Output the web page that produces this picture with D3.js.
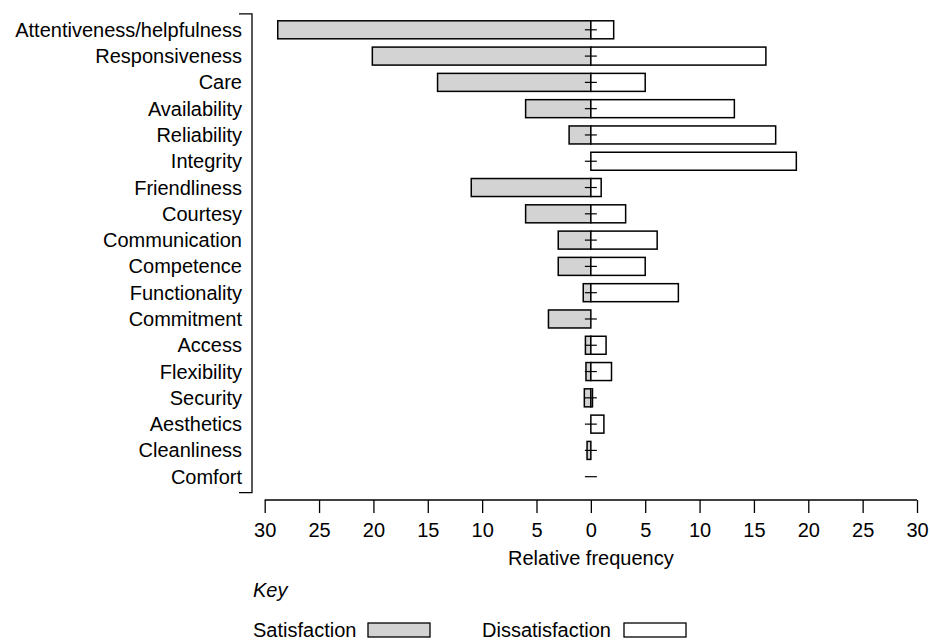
<!DOCTYPE html>
<html>
<head>
<meta charset="utf-8">
<script src="https://cdn.jsdelivr.net/npm/d3@7"></script>
<style>
  body { margin: 0; background: #fff; }
  svg text { font-family: "Liberation Sans", Arial, Helvetica, sans-serif; font-size: 20px; fill: #000; }
</style>
</head>
<body>
<div id="chart"></div>
<script>
//  Data  //
var categories = ["Attentiveness/helpfulness", "Responsiveness", "Care", "Availability", "Reliability",
                  "Integrity", "Friendliness", "Courtesy", "Communication", "Competence", "Functionality",
                  "Commitment", "Access", "Flexibility", "Security", "Aesthetics", "Cleanliness", "Comfort"];
var satisfaction    = [28.8, 20.1, 14.1, 6.0, 2.0, 0, 11.0, 6.0, 3.0, 3.0, 0.7, 3.9, 0.5, 0.45, 0.6, 0, 0.35, 0];
var dissatisfaction = [2.1, 16.1, 5.0, 13.2, 17.0, 18.9, 0.95, 3.2, 6.1, 5.0, 8.05, 0, 1.4, 1.9, 0.15, 1.2, 0, 0];
var tickValues = [-30, -25, -20, -15, -10, -5, 0, 5, 10, 15, 20, 25, 30];
var keyLabels = ["Satisfaction", "Dissatisfaction"];

var width = 930, height = 640;
var svg = d3.select("#chart").append("svg").attr("width", width).attr("height", height);

var x = d3.scaleLinear().domain([-30, 30]).range([264.7, 917]);
var y = d3.scalePoint().domain(categories).range([29.8, 476.7]);
var barH = 18;
var gray = "#d3d3d3";

var rows = categories.map(function(c, i){
    return {name: c, sat: satisfaction[i], dis: dissatisfaction[i]};
});

//  Bars  //
var g = svg.append("g");
g.selectAll(".sat").data(rows.filter(function(d){return d.sat > 0;})).enter().append("rect")
    .attr("class", "sat")
    .attr("x", function(d){return x(-d.sat);})
    .attr("y", function(d){return y(d.name) - barH/2;})
    .attr("width", function(d){return x(0) - x(-d.sat);})
    .attr("height", barH)
    .attr("fill", gray).attr("stroke", "#000").attr("stroke-width", 1.5);
g.selectAll(".dis").data(rows.filter(function(d){return d.dis > 0;})).enter().append("rect")
    .attr("class", "dis")
    .attr("x", x(0))
    .attr("y", function(d){return y(d.name) - barH/2;})
    .attr("width", function(d){return x(d.dis) - x(0);})
    .attr("height", barH)
    .attr("fill", "#fff").attr("stroke", "#000").attr("stroke-width", 1.5);

// zero marker
g.selectAll(".zero").data(rows).enter().append("line")
    .attr("x1", x(-0.55)).attr("x2", x(0.55))
    .attr("y1", function(d){return y(d.name);}).attr("y2", function(d){return y(d.name);})
    .attr("stroke", "#000").attr("stroke-width", 1.2);

//  Category labels  //
svg.selectAll(".lab").data(categories).enter().append("text")
    .attr("x", 242).attr("y", function(d){return y(d);}).attr("dy", "0.35em")
    .attr("text-anchor", "end").text(function(d){return d;});

//  Y bracket  //
var yTop = y(categories[0]) - 16, yBot = y(categories[categories.length - 1]) + 16;
svg.append("path")
    .attr("d", "M239," + yTop + "H252V" + yBot + "H239")
    .attr("fill", "none").attr("stroke", "#000").attr("stroke-width", 1.3);

//  X axis  //
var axisX = d3.axisBottom(x).tickValues(tickValues).tickSize(13).tickPadding(8)
    .tickFormat(function(d){return Math.abs(d);});
var ax = svg.append("g").attr("transform", "translate(0,500)").call(axisX);
ax.select(".domain").attr("d", "M" + x(-30) + ",0H" + x(30)).attr("stroke-width", 1.3);
ax.selectAll(".tick line").attr("stroke-width", 1.3);
ax.selectAll(".tick text").attr("font-size", 20).attr("font-family", "Liberation Sans, Arial, sans-serif")
    .attr("dy", null).attr("y", 37);

svg.append("text").attr("x", x(0)).attr("y", 565).attr("text-anchor", "middle").text("Relative frequency");

//  Key  //
svg.append("text").attr("x", 253).attr("y", 597).attr("font-style", "italic").text("Key");
var keyX = [253, 482];
var keyBoxX = [368, 624];
var keyFill = [gray, "#fff"];
keyLabels.forEach(function(k, i){
    svg.append("text").attr("x", keyX[i]).attr("y", 637).text(k);
    svg.append("rect").attr("x", keyBoxX[i]).attr("y", 623).attr("width", 62).attr("height", 14)
        .attr("fill", keyFill[i]).attr("stroke", "#000").attr("stroke-width", 1.3);
});
</script>
</body>
</html>
